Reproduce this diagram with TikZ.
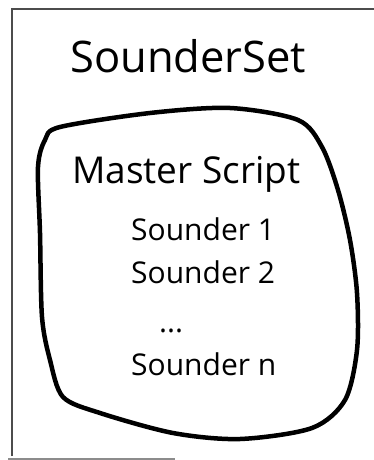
\documentclass[tikz,border=0pt]{standalone}
\usepackage{fontspec}
\setmainfont{Open Sans}
\usepackage{tikz}
\usetikzlibrary{positioning, calc}

\begin{document}
\begin{tikzpicture}[x=1pt, y=-1pt,
	settitle/.style={anchor=base west, inner sep=0pt, font=\fontsize{43.5}{48}\selectfont},
	master/.style={anchor=base west, inner sep=0pt, font=\fontsize{37}{40}\selectfont},
	sounder/.style={anchor=base west, inner sep=0pt, font=\fontsize{30}{34}\selectfont},
	marco/.style={line width=1.3pt, black!70},
	blob/.style={line width=4.5pt, line join=round}]

	\useasboundingbox (0,0) rectangle (374,460);

	% outer frame, left and top
	\draw[marco] (12,456) -- (12,9) -- (374,9);
	\draw[line width=1.5pt, black!45] (8,459) -- (175,459);

	% the rounded set
	\draw[blob] plot[smooth cycle, tension=0.5] coordinates {
		(60,127) (150,113) (230,108) (298,120) (322,147) (338,190)
		(350,240) (357,293) (357,350) (345,400) (312,428) (240,439)
		(173,433) (100,413) (63,397) (50,360) (42,317) (40,233)
		(38,167) (45,140)};

	\node[settitle] (set)    at (70,72)   {SounderSet};
	\node[master]   (script) at (72,183)  {Master Script};
	\node[sounder]  (s1)     at (131,240) {Sounder 1};
	\node[sounder]  (s2)     at (131,283) {Sounder 2};
	\node[sounder]  (dots)   at (159,332) {...};
	\node[sounder]  (sn)     at (131,375) {Sounder n};
\end{tikzpicture}
\end{document}
